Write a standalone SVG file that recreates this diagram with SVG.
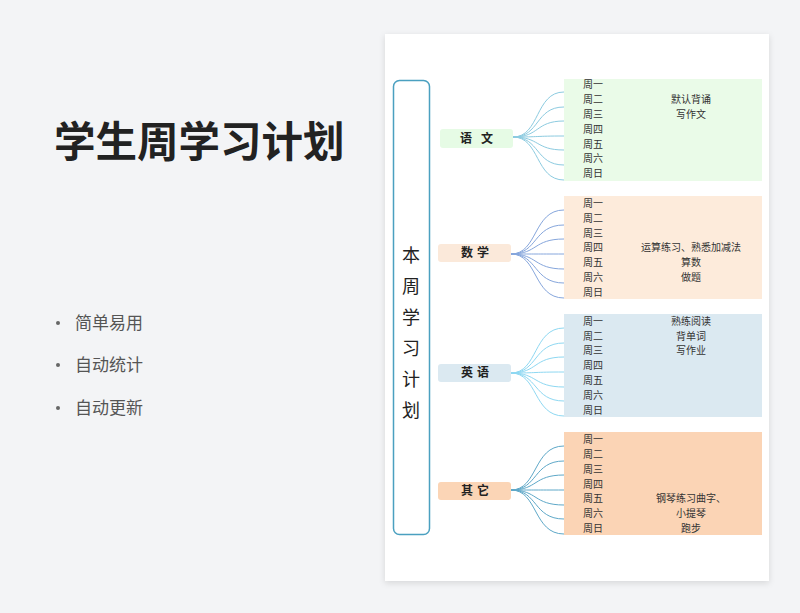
<svg xmlns="http://www.w3.org/2000/svg" width="800" height="613" viewBox="0 0 800 613">
<defs>
<filter id="sh" x="-10%" y="-10%" width="120%" height="120%"><feDropShadow dx="0" dy="2" stdDeviation="3" flood-color="#000" flood-opacity="0.12"/></filter>
<style>
text{font-family:"Noto Sans CJK SC","Noto Sans",sans-serif;}
.title{font-size:41.5px;font-weight:bold;fill:#222;}
.bul{font-size:17px;fill:#555;}
.vt{font-size:18px;fill:#222;text-anchor:middle;}
.cat{font-size:12px;font-weight:bold;fill:#222;text-anchor:middle;letter-spacing:4px;}
.day{font-size:10px;fill:#333;text-anchor:middle;}
.ct{font-size:10px;fill:#333;text-anchor:middle;}
.c1{fill:none;stroke:#8ccbe0;stroke-width:1;}
.c2{fill:none;stroke:#86a6dc;stroke-width:1;}
.c3{fill:none;stroke:#8ed8f2;stroke-width:1;}
.c4{fill:none;stroke:#5ea8c8;stroke-width:1;}
</style>
</defs>
<rect width="800" height="613" fill="#f3f4f6"/>
<text class="title" x="54" y="157">学生周学习计划</text>
<g id="bullets">
<circle cx="58" cy="323" r="2" fill="#666"/><text class="bul" x="75" y="329">简单易用</text>
<circle cx="58" cy="365" r="2" fill="#666"/><text class="bul" x="75" y="371">自动统计</text>
<circle cx="58" cy="408" r="2" fill="#666"/><text class="bul" x="75" y="414">自动更新</text>
</g>
<rect x="385" y="34" width="384" height="547" fill="#fff" filter="url(#sh)"/>
<g id="root">
<rect x="393.5" y="80.5" width="36" height="454" rx="6" fill="#fff" stroke="#4aa0c0" stroke-width="1.5"/>
<text class="vt" x="411" y="262">本</text>
<text class="vt" x="411" y="293">周</text>
<text class="vt" x="411" y="324">学</text>
<text class="vt" x="411" y="355">习</text>
<text class="vt" x="411" y="386">计</text>
<text class="vt" x="411" y="417">划</text>
</g>
<g id="connectors">
<path class="c1" d="M513 137 C540 137 535 92 564 92 M513 137 C540 137 535 107 564 107 M513 137 C540 137 535 121 564 121 M513 137 C540 137 535 136 564 136 M513 137 C540 137 535 150 564 150 M513 137 C540 137 535 165 564 165 M513 137 C540 137 535 180 564 180"/>
<path class="c2" d="M511 254 C538 254 533 210 564 210 M511 254 C538 254 533 225 564 225 M511 254 C538 254 533 239 564 239 M511 254 C538 254 533 254 564 254 M511 254 C538 254 533 269 564 269 M511 254 C538 254 533 283 564 283 M511 254 C538 254 533 298 564 298"/>
<path class="c3" d="M511 373 C538 373 533 328 564 328 M511 373 C538 373 533 343 564 343 M511 373 C538 373 533 357 564 357 M511 373 C538 373 533 372 564 372 M511 373 C538 373 533 387 564 387 M511 373 C538 373 533 401 564 401 M511 373 C538 373 533 416 564 416"/>
<path class="c4" d="M511 490 C538 490 533 446 564 446 M511 490 C538 490 533 461 564 461 M511 490 C538 490 533 475 564 475 M511 490 C538 490 533 490 564 490 M511 490 C538 490 533 505 564 505 M511 490 C538 490 533 519 564 519 M511 490 C538 490 533 534 564 534"/>
</g>
<g id="yuwen">
<rect x="440" y="129" width="73" height="19" rx="3" fill="#e6fbe5"/>
<text class="cat" x="481" y="143" style="letter-spacing:9px">语文</text>
<rect x="564" y="79" width="198" height="102" fill="#eafbe8"/>
<text class="day" x="593" y="88">周一</text><text class="day" x="593" y="103">周二</text><text class="day" x="593" y="118">周三</text><text class="day" x="593" y="133">周四</text><text class="day" x="593" y="148">周五</text><text class="day" x="593" y="162">周六</text><text class="day" x="593" y="177">周日</text>
<text class="ct" x="691" y="103">默认背诵</text><text class="ct" x="691" y="118">写作文</text>
</g>
<g id="shuxue">
<rect x="438" y="244" width="73" height="18" rx="3" fill="#fbe9da"/>
<text class="cat" x="477" y="257">数学</text>
<rect x="564" y="196" width="198" height="103" fill="#fdebdb"/>
<text class="day" x="593" y="207">周一</text><text class="day" x="593" y="222">周二</text><text class="day" x="593" y="237">周三</text><text class="day" x="593" y="251">周四</text><text class="day" x="593" y="266">周五</text><text class="day" x="593" y="281">周六</text><text class="day" x="593" y="296">周日</text>
<text class="ct" x="691" y="251">运算练习、熟悉加减法</text><text class="ct" x="691" y="266">算数</text><text class="ct" x="691" y="281">做题</text>
</g>
<g id="yingyu">
<rect x="438" y="364" width="73" height="18" rx="3" fill="#dbe9f1"/>
<text class="cat" x="477" y="377">英语</text>
<rect x="564" y="314" width="198" height="103" fill="#dbe9f1"/>
<text class="day" x="593" y="325">周一</text><text class="day" x="593" y="340">周二</text><text class="day" x="593" y="354">周三</text><text class="day" x="593" y="369">周四</text><text class="day" x="593" y="384">周五</text><text class="day" x="593" y="399">周六</text><text class="day" x="593" y="414">周日</text>
<text class="ct" x="691" y="325">熟练阅读</text><text class="ct" x="691" y="340">背单词</text><text class="ct" x="691" y="354">写作业</text>
</g>
<g id="qita">
<rect x="438" y="482" width="73" height="18" rx="3" fill="#fbd5b6"/>
<text class="cat" x="477" y="495">其它</text>
<rect x="564" y="432" width="198" height="103" fill="#fbd4b5"/>
<text class="day" x="593" y="443">周一</text><text class="day" x="593" y="458">周二</text><text class="day" x="593" y="473">周三</text><text class="day" x="593" y="488">周四</text><text class="day" x="593" y="502">周五</text><text class="day" x="593" y="517">周六</text><text class="day" x="593" y="532">周日</text>
<text class="ct" x="691" y="502">钢琴练习曲字、</text><text class="ct" x="691" y="517">小提琴</text><text class="ct" x="691" y="532">跑步</text>
</g>
</svg>
